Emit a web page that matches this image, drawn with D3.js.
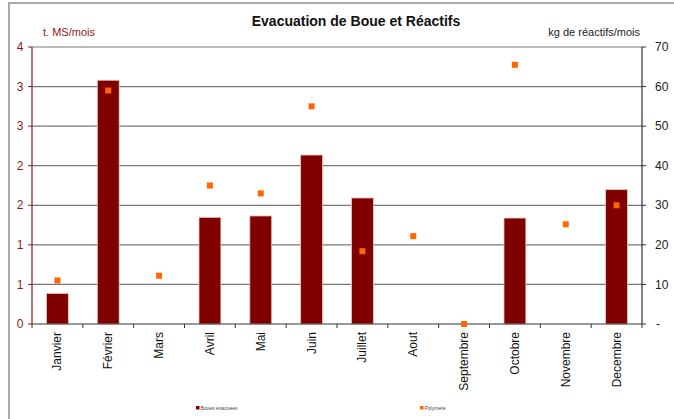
<!DOCTYPE html>
<html>
<head>
<meta charset="utf-8">
<script src="https://cdn.jsdelivr.net/npm/d3@7"></script>
<style>
  body { margin: 0; background: #fff; }
  text { font-family: "Liberation Sans", Arial, sans-serif; }
</style>
</head>
<body>
<div id="chart"></div>
<script>
const months = ["Janvier", "Février", "Mars", "Avril", "Mai", "Juin", "Juillet", "Aout", "Septembre", "Octobre", "Novembre", "Decembre"];
// t. MS/mois (left axis)
const boues = [0.44, 3.52, 0, 1.54, 1.56, 2.44, 1.82, 0, 0, 1.53, 0, 1.94];
// kg de réactifs/mois (right axis)
const polymere = [11, 59, 12.2, 35, 33, 55, 18.4, 22.2, 0, 65.5, 25.2, 30];
const rightTicks = [0, 10, 20, 30, 40, 50, 60, 70];

const width = 674, height = 419;
const margin = { top: 47, right: 32, bottom: 95, left: 32 };

const svg = d3.select("#chart").append("svg")
  .attr("width", width)
  .attr("height", height);

// outer frame (only top and left edges visible)
svg.append("path")
  .attr("d", `M9,${height} L9,3 L${width},3`)
  .attr("fill", "none")
  .attr("stroke", "#aaa")
  .attr("stroke-width", 2);

const x = d3.scaleBand()
  .domain(months)
  .range([margin.left, width - margin.right - 0]);

const yR = d3.scaleLinear().domain([0, 70]).range([height - margin.bottom, margin.top]);
const yL = d3.scaleLinear().domain([0, 4]).range([height - margin.bottom, margin.top]);

const x0 = margin.left, x1 = width - margin.right;

// gridlines
svg.append("g")
  .selectAll("line")
  .data(rightTicks.slice(1))
  .enter()
  .append("line")
  .attr("x1", x0)
  .attr("x2", x1)
  .attr("y1", d => yR(d))
  .attr("y2", d => yR(d))
  .attr("stroke", "#777")
  .attr("stroke-width", 1.2);

// bars
const barW = x.bandwidth() * 0.43;
svg.append("g")
  .selectAll("rect")
  .data(boues)
  .enter()
  .append("rect")
  .attr("x", (d, i) => x(months[i]) + (x.bandwidth() - barW) / 2)
  .attr("y", d => yL(d))
  .attr("width", barW)
  .attr("height", d => yL(0) - yL(d))
  .attr("fill", "#800000")
  .attr("stroke", d => d > 0 ? "#e9c6c6" : "none")
  .attr("stroke-width", 0.8);

// left axis (values at 4/7 steps, labels rounded)
const leftTicks = d3.range(8).map(i => i * 4 / 7);
const gL = svg.append("g");
gL.append("line")
  .attr("x1", x0).attr("x2", x0)
  .attr("y1", yL(0)).attr("y2", yL(4))
  .attr("stroke", "#8b1a1a").attr("stroke-width", 1.2);
gL.selectAll(".tk")
  .data(leftTicks)
  .enter()
  .append("line")
  .attr("x1", x0 - 4).attr("x2", x0)
  .attr("y1", d => yL(d)).attr("y2", d => yL(d))
  .attr("stroke", "#8b1a1a");
gL.selectAll("text")
  .data(leftTicks)
  .enter()
  .append("text")
  .attr("x", 20)
  .attr("y", d => yL(d))
  .attr("dy", "0.35em")
  .attr("text-anchor", "middle")
  .attr("fill", "#8b1a1a")
  .style("font-size", "12px")
  .text(d => Math.round(d));

// right axis
const gR = svg.append("g");
gR.append("line")
  .attr("x1", x1).attr("x2", x1)
  .attr("y1", yR(0)).attr("y2", yR(70))
  .attr("stroke", "#333").attr("stroke-width", 1.2);
gR.selectAll(".tk")
  .data(rightTicks)
  .enter()
  .append("line")
  .attr("x1", x1).attr("x2", x1 + 4)
  .attr("y1", d => yR(d)).attr("y2", d => yR(d))
  .attr("stroke", "#333");
gR.selectAll("text")
  .data(rightTicks)
  .enter()
  .append("text")
  .attr("x", d => d === 0 ? 656 : 655)
  .attr("y", d => yR(d))
  .attr("dy", "0.35em")
  .attr("fill", "#222")
  .style("font-size", "12px")
  .text(d => d === 0 ? "-" : d);

// bottom axis
const gB = svg.append("g");
gB.append("line")
  .attr("x1", x0).attr("x2", x1)
  .attr("y1", yL(0)).attr("y2", yL(0))
  .attr("stroke", "#333").attr("stroke-width", 1.2);
gB.selectAll(".tk")
  .data(months.concat([null]))
  .enter()
  .append("line")
  .attr("x1", (d, i) => x0 + i * x.step())
  .attr("x2", (d, i) => x0 + i * x.step())
  .attr("y1", yL(0)).attr("y2", yL(0) + 4)
  .attr("stroke", "#333");
gB.selectAll("text")
  .data(months)
  .enter()
  .append("text")
  .attr("transform", d => `translate(${x(d) + x.bandwidth() / 2 + 4},332) rotate(-90)`)
  .attr("text-anchor", "end")
  .attr("fill", "#111")
  .style("font-size", "12px")
  .text(d => d);

// polymere markers
svg.append("g")
  .selectAll("rect")
  .data(polymere)
  .enter()
  .append("rect")
  .attr("x", (d, i) => x(months[i]) + x.bandwidth() / 2 - 3)
  .attr("y", d => yR(d) - 3)
  .attr("width", 6)
  .attr("height", 6)
  .attr("fill", "#ff6600");

// titles
svg.append("text")
  .attr("x", 356).attr("y", 26)
  .attr("text-anchor", "middle")
  .style("font-size", "14px")
  .style("font-weight", "bold")
  .attr("fill", "#111")
  .text("Evacuation de Boue et Réactifs");

svg.append("text")
  .attr("x", 43).attr("y", 36)
  .style("font-size", "11px")
  .attr("fill", "#8b1a1a")
  .text("t. MS/mois");

svg.append("text")
  .attr("x", 640).attr("y", 36)
  .attr("text-anchor", "end")
  .style("font-size", "11px")
  .attr("fill", "#222")
  .text("kg de réactifs/mois");

// legend
const legend = [
  { label: "Boues évacuées", color: "#800000", x: 196 },
  { label: "Polymère", color: "#ff6600", x: 420 }
];
const lg = svg.append("g").selectAll("g")
  .data(legend)
  .enter()
  .append("g");
lg.append("rect")
  .attr("x", d => d.x).attr("y", 406)
  .attr("width", 3.5).attr("height", 3.5)
  .attr("fill", d => d.color);
lg.append("text")
  .attr("x", d => d.x + 4.5).attr("y", 409.5)
  .style("font-size", "5px")
  .attr("fill", "#444")
  .text(d => d.label);
</script>
</body>
</html>
